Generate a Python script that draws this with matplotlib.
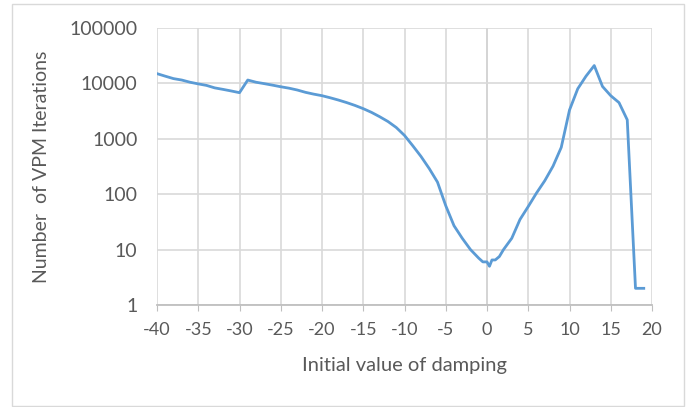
import matplotlib
matplotlib.use('Agg')
import matplotlib.pyplot as plt
import matplotlib.patches as patches
from matplotlib.ticker import FixedLocator, FixedFormatter

# initial damping value vs number of VPM iterations
damping = [-40, -39, -38, -37, -36, -35, -34, -33, -32, -31, -30,
           -29, -28, -27, -26, -25, -24, -23, -22, -21, -20,
           -19, -18, -17, -16, -15, -14, -13, -12, -11, -10,
           -9, -8, -7, -6, -5, -4, -3, -2, -1, -0.5,
           0, 0.3, 0.6, 1, 1.5, 2, 3, 4, 5, 6,
           7, 8, 9, 10, 11, 12, 13, 14, 15, 16,
           17, 18, 19]
iterations = [15000, 13500, 12200, 11500, 10500, 9800, 9200, 8300, 7800, 7300, 6800,
              11500, 10500, 9900, 9300, 8700, 8200, 7600, 6900, 6400, 6000,
              5500, 5000, 4500, 4000, 3500, 3000, 2500, 2050, 1600, 1150,
              750, 480, 290, 165, 62, 27, 16, 10, 7, 6,
              6, 5, 6.5, 6.5, 7.5, 10, 16, 35, 60, 105,
              175, 320, 700, 3300, 8000, 13500, 21000, 8800, 6000, 4500,
              2200, 2, 2]

xticks = list(range(-40, 21, 5))
yticks = [1, 10, 100, 1000, 10000, 100000]
ytick_labels = ['1', '10', '100', '1000', '10000', '100000']

plt.rcParams['font.family'] = ['Lato', 'DejaVu Sans']
txt = '#595959'

fig = plt.figure(figsize=(6.92, 4.07), dpi=100)
ax = fig.add_axes([157/692, 1 - 305/407, (652 - 157)/692, (305 - 28)/407])

# chart frame
frame = patches.Rectangle((12/692, 1 - 406/407), 672/692, 402/407,
                          transform=fig.transFigure, fill=False,
                          edgecolor='#D9D9D9', linewidth=1.0, zorder=0)
fig.patches.append(frame)

ax.plot(damping, iterations, color='#5B9BD5', linewidth=2.0, zorder=3)

ax.set_yscale('log')
ax.set_xlim(-40, 20)
ax.set_ylim(1, 100000)
ax.yaxis.set_major_locator(FixedLocator(yticks))
ax.yaxis.set_major_formatter(FixedFormatter(ytick_labels))
ax.yaxis.set_minor_locator(FixedLocator([]))
ax.set_xticks(xticks)
ax.set_xticklabels([str(t) for t in xticks])

ax.grid(True, color='#D9D9D9', linewidth=1.2, zorder=0)
ax.axvline(0, color='#BFBFBF', linewidth=1.3, zorder=1)
for s in ['top', 'right', 'left']:
    ax.spines[s].set_visible(False)
ax.spines['bottom'].set_color('#BFBFBF')
ax.spines['bottom'].set_linewidth(1.3)

ax.tick_params(axis='x', length=4, color='#BFBFBF', labelsize=13,
               labelcolor=txt, pad=8)
ax.tick_params(axis='y', length=0, labelsize=14, labelcolor=txt, pad=14)

ax.set_xlabel('Initial value of damping', fontsize=14.5, color=txt, labelpad=14)
ax.set_ylabel('Number  of VPM Iterations', fontsize=14, color=txt, labelpad=14)

fig.savefig('out.png', dpi=100)
